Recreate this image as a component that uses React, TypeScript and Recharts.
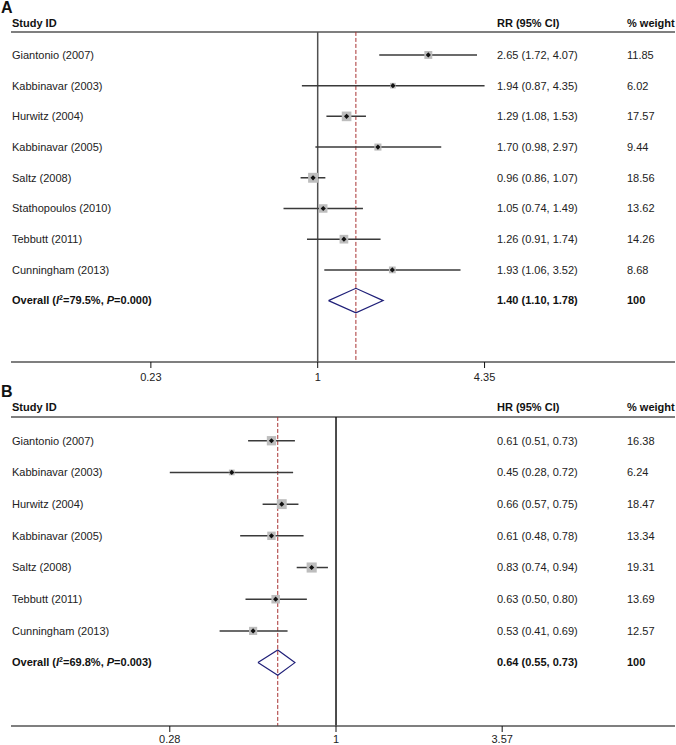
import { ComposedChart, Scatter, ErrorBar, XAxis, YAxis, ReferenceLine } from 'recharts'

// panel A - response rate
const studiesA = [
  'Giantonio (2007)',
  'Kabbinavar (2003)',
  'Hurwitz (2004)',
  'Kabbinavar (2005)',
  'Saltz (2008)',
  'Stathopoulos (2010)',
  'Tebbutt (2011)',
  'Cunningham (2013)',
]
const rrA = [2.65, 1.94, 1.29, 1.7, 0.96, 1.05, 1.26, 1.93]
const loA = [1.72, 0.87, 1.08, 0.98, 0.86, 0.74, 0.91, 1.06]
const hiA = [4.07, 4.35, 1.53, 2.97, 1.07, 1.49, 1.74, 3.52]
const weightA = [11.85, 6.02, 17.57, 9.44, 18.56, 13.62, 14.26, 8.68]
const overallA = [1.4, 1.1, 1.78]
const hetA = ['79.5%', '0.000']
const tickLabelsA = ['0.23', '1', '4.35']

// panel B - hazard ratio
const studiesB = [
  'Giantonio (2007)',
  'Kabbinavar (2003)',
  'Hurwitz (2004)',
  'Kabbinavar (2005)',
  'Saltz (2008)',
  'Tebbutt (2011)',
  'Cunningham (2013)',
]
const hrB = [0.61, 0.45, 0.66, 0.61, 0.83, 0.63, 0.53]
const loB = [0.51, 0.28, 0.57, 0.48, 0.74, 0.5, 0.41]
const hiB = [0.73, 0.72, 0.75, 0.78, 0.94, 0.8, 0.69]
const weightB = [16.38, 6.24, 18.47, 13.34, 19.31, 13.69, 12.57]
const overallB = [0.64, 0.55, 0.73]
const hetB = ['69.8%', '0.003']
const tickLabelsB = ['0.28', '1', '3.57']

const FONT = '"Liberation Sans", Arial, Helvetica, sans-serif'
const LETTER_ROW = -1.55
const HEADER_ROW = -1.05
const LINE_ROW = -0.75
const TOP_ROW = -1.79

function StudyMarker(props: any) {
  const { cx, cy, payload } = props
  if (cx == null || cy == null) return <g />
  const h = 1.15 * Math.sqrt(payload.w)
  const d = 2.6
  return (
    <g>
      <rect x={cx - h} y={cy - h} width={2 * h} height={2 * h} fill="#bdbdbd" />
      <path d={`M${cx},${cy - d}L${cx + d},${cy}L${cx},${cy + d}L${cx - d},${cy}Z`} fill="#111" />
    </g>
  )
}

const fmt = (v: number) => v.toFixed(2)

interface PanelProps {
  letter: string
  measure: string
  studies: string[]
  est: number[]
  lo: number[]
  hi: number[]
  weight: number[]
  overall: number[]
  het: string[]
  tickLabels: string[]
  xDomain: [number, number]
  height: number
  axisHeight: number
  tickMargin: number
  refColor: string
}

function Panel(p: PanelProps) {
  const n = p.studies.length
  const rows = p.studies.map((s, i) => ({
    x: Math.log(p.est[i]),
    y: i,
    err: [Math.log(p.est[i]) - Math.log(p.lo[i]), Math.log(p.hi[i]) - Math.log(p.est[i])],
    w: p.weight[i],
  }))
  const [oEst, oLo, oHi] = p.overall
  const dh = 0.4
  const diamond = [
    { x: Math.log(oLo), y: n },
    { x: Math.log(oEst), y: n - dh },
    { x: Math.log(oHi), y: n },
    { x: Math.log(oEst), y: n + dh },
    { x: Math.log(oLo), y: n },
  ]
  const bottom = n + 2
  const yTicks = [LETTER_ROW, HEADER_ROW, ...rows.map((r) => r.y), n]
  const xTicks = p.tickLabels.map((t) => Math.log(Number(t)))

  const leftTick = (t: any) => {
    const v = t.payload.value
    const y = t.y
    if (v === LETTER_ROW)
      return (
        <text x={1} y={y} dy="0.35em" fontSize={16} fontWeight="bold" fill="#111" fontFamily={FONT}>
          {p.letter}
        </text>
      )
    if (v === HEADER_ROW)
      return (
        <text x={12} y={y} dy="0.35em" fontSize={11} fontWeight="bold" fill="#111" fontFamily={FONT}>
          Study ID
        </text>
      )
    if (v === n)
      return (
        <text x={12} y={y} dy="0.35em" fontSize={11} fontWeight="bold" fill="#111" fontFamily={FONT}>
          Overall (<tspan fontStyle="italic">I</tspan>
          <tspan dy={-4} fontSize={7}>2</tspan>
          <tspan dy={4}>={p.het[0]}, </tspan>
          <tspan fontStyle="italic">P</tspan>={p.het[1]})
        </text>
      )
    return (
      <text x={12} y={y} dy="0.35em" fontSize={11} fill="#222" fontFamily={FONT}>
        {p.studies[v]}
      </text>
    )
  }

  const rightTick = (t: any) => {
    const v = t.payload.value
    const y = t.y
    if (v === LETTER_ROW) return <g />
    if (v === HEADER_ROW)
      return (
        <g fontSize={11} fontWeight="bold" fill="#111" fontFamily={FONT}>
          <text x={497} y={y} dy="0.35em">{p.measure} (95% CI)</text>
          <text x={627} y={y} dy="0.35em">% weight</text>
        </g>
      )
    if (v === n)
      return (
        <g fontSize={11} fontWeight="bold" fill="#111" fontFamily={FONT}>
          <text x={497} y={y} dy="0.35em">{`${fmt(oEst)} (${fmt(oLo)}, ${fmt(oHi)})`}</text>
          <text x={627} y={y} dy="0.35em">100</text>
        </g>
      )
    return (
      <g fontSize={11} fill="#222" fontFamily={FONT}>
        <text x={497} y={y} dy="0.35em">{`${fmt(p.est[v])} (${fmt(p.lo[v])}, ${fmt(p.hi[v])})`}</text>
        <text x={627} y={y} dy="0.35em">{fmt(p.weight[v])}</text>
      </g>
    )
  }

  return (
    <ComposedChart
      width={676}
      height={p.height}
      margin={{ top: 0, right: 0, bottom: 0, left: 10 }}
      style={{ fontFamily: FONT }}
    >
      <XAxis
        type="number"
        dataKey="x"
        domain={p.xDomain}
        allowDataOverflow
        ticks={xTicks}
        interval={0}
        tickFormatter={(_v: number, i: number) => p.tickLabels[i]}
        height={p.axisHeight}
        tickSize={6}
        tickMargin={p.tickMargin}
        axisLine={{ stroke: '#555', strokeWidth: 1.5 }}
        tickLine={{ stroke: '#111', strokeWidth: 1 }}
        tick={{ fontSize: 11, fill: '#222', fontFamily: FONT }}
      />
      <YAxis
        yAxisId="left"
        type="number"
        dataKey="y"
        reversed
        domain={[TOP_ROW, bottom]}
        allowDataOverflow
        ticks={yTicks}
        interval={0}
        width={1}
        axisLine={false}
        tickLine={false}
        tick={leftTick}
      />
      <YAxis
        yAxisId="right"
        orientation="right"
        type="number"
        dataKey="y"
        reversed
        domain={[TOP_ROW, bottom]}
        allowDataOverflow
        ticks={yTicks}
        interval={0}
        width={1}
        axisLine={false}
        tickLine={false}
        tick={rightTick}
      />
      <ReferenceLine yAxisId="left" y={LINE_ROW} stroke="#555" strokeWidth={1.6} />
      <ReferenceLine
        yAxisId="left"
        segment={[
          { x: 0, y: LINE_ROW },
          { x: 0, y: bottom },
        ]}
        stroke={p.refColor}
        strokeWidth={1.5}
      />
      <ReferenceLine
        yAxisId="left"
        segment={[
          { x: Math.log(oEst), y: LINE_ROW },
          { x: Math.log(oEst), y: bottom },
        ]}
        stroke="#a83232"
        strokeWidth={1}
        strokeDasharray="4 2"
      />
      <Scatter
        yAxisId="left"
        data={rows}
        isAnimationActive={false}
        shape={(sp: any) => <StudyMarker {...sp} />}
      >
        <ErrorBar dataKey="err" direction="x" width={0} stroke="#3a3a3a" strokeWidth={1.5} />
      </Scatter>
      <Scatter
        yAxisId="left"
        data={diamond}
        isAnimationActive={false}
        fill="none"
        line={{ stroke: '#1f1f78', strokeWidth: 1.2 }}
        lineType="joint"
        shape={() => <g />}
      />
    </ComposedChart>
  )
}

export default function App() {
  return (
    <div style={{ position: 'absolute', left: 0, top: 0, background: '#fff' }}>
      <Panel
        letter="A"
        measure="RR"
        studies={studiesA}
        est={rrA}
        lo={loA}
        hi={hiA}
        weight={weightA}
        overall={overallA}
        het={hetA}
        tickLabels={tickLabelsA}
        xDomain={[-2.702, 3.148]}
        height={384}
        axisHeight={22}
        tickMargin={5}
        refColor="#505050"
      />
      <Panel
        letter="B"
        measure="HR"
        studies={studiesB}
        est={hrB}
        lo={loB}
        hi={hiB}
        weight={weightB}
        overall={overallB}
        het={hetB}
        tickLabels={tickLabelsB}
        xDomain={[-2.489, 2.596]}
        height={361}
        axisHeight={19}
        tickMargin={3}
        refColor="#111"
      />
    </div>
  )
}
